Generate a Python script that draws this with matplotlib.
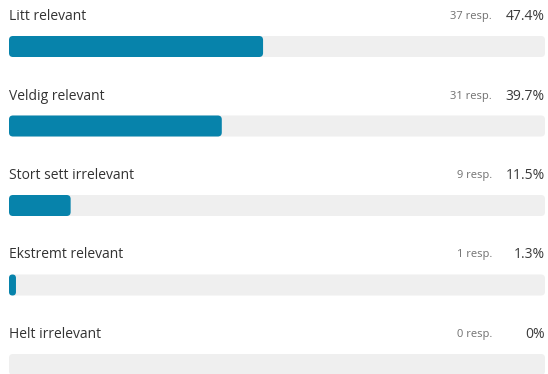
import matplotlib
matplotlib.use("Agg")
import matplotlib.pyplot as plt
from matplotlib.patches import FancyBboxPatch

plt.rcParams['font.family'] = ['Open Sans', 'DejaVu Sans']

categories = ["Litt relevant", "Veldig relevant", "Stort sett irrelevant",
              "Ekstremt relevant", "Helt irrelevant"]
responses = [37, 31, 9, 1, 0]
percents = [47.4, 39.7, 11.5, 1.3, 0]

FILL = '#0783ab'
TRACK = '#efefef'

W, H = 548, 374
fig = plt.figure(figsize=(W / 100, H / 100), dpi=100)
fig.patch.set_facecolor('white')

# axes spans the bar track horizontally, full height vertically
left, right = 9, 545
ax = fig.add_axes([left / W, 0, (right - left) / W, 1])
row_px = 79.5
top_row = -46.5 / row_px
bottom_row = (H - 46.5) / row_px
ax.set_xlim(0, 100)
ax.set_ylim(bottom_row, top_row)
ax.axis('off')

bar_h = 21 / row_px
x_per_px = 100 / (right - left)
y_per_px = (bottom_row - top_row) / H
aspect = y_per_px / x_per_px
radius = 4 * x_per_px


def rounded_bar(y, width, color):
    r = min(radius, width / 2)
    p = FancyBboxPatch((0, y - bar_h / 2), width, bar_h,
                       boxstyle=f"round,pad=0,rounding_size={r}",
                       mutation_aspect=aspect, fc=color, ec='none',
                       clip_on=False)
    ax.add_patch(p)


for i, (cat, n, pct) in enumerate(zip(categories, responses, percents)):
    rounded_bar(i, 100, TRACK)
    if pct > 0:
        rounded_bar(i, pct, FILL)
    ty = i - 30 / row_px
    ax.text(0, ty, cat, ha='left', va='center', fontsize=10, color='#333333')
    ax.text(100, ty, f"{pct:g}%", ha='right', va='center', fontsize=10,
            color='#3a3a3a')
    ax.annotate(f"{n} resp.", xy=(100, ty), xytext=(-53, 0),
                textcoords='offset pixels', ha='right', va='center',
                fontsize=8, color='#707070')

fig.savefig('out.png', dpi=100)
